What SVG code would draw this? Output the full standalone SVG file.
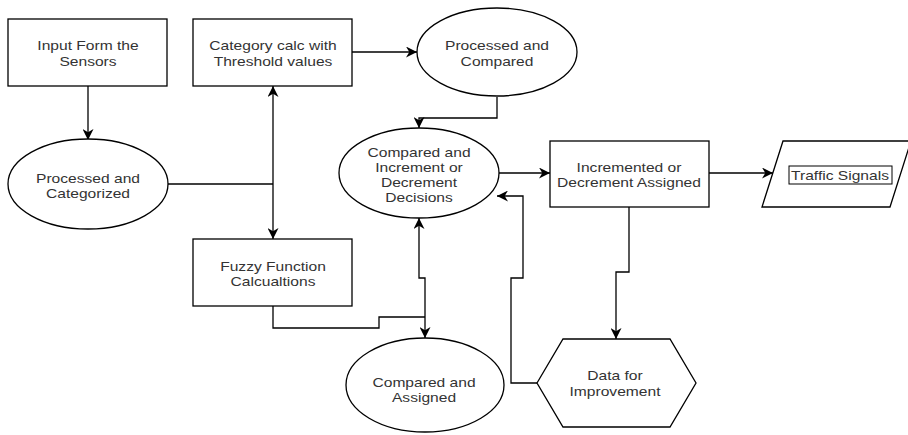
<svg xmlns="http://www.w3.org/2000/svg" width="908" height="435" viewBox="0 0 908 435">
<style>
.s{fill:#fff;stroke:#000;stroke-width:1.3}
.t{font-family:"Liberation Sans",Arial,sans-serif;font-size:13px;fill:#333;text-anchor:middle}
.c{fill:none;stroke:#000;stroke-width:1.3}
</style>
<defs>
<marker id="a" markerUnits="userSpaceOnUse" markerWidth="11" markerHeight="11" refX="10" refY="5" orient="auto-start-reverse" viewBox="0 0 10 10">
<path d="M0,0 L10,5 L0,10 L3,5 z" fill="#000"/>
</marker>
</defs>
<rect width="908" height="435" fill="#fff"/>
<g id="connectors">
<path class="c" d="M88,86 V140" marker-end="url(#a)"/>
<path class="c" d="M167,184 H273"/>
<path class="c" d="M273,184 V86" marker-end="url(#a)"/>
<path class="c" d="M273,184 V239" marker-end="url(#a)"/>
<path class="c" d="M352,52 H417" marker-end="url(#a)"/>
<path class="c" d="M497,97 V118 H419 V128" marker-end="url(#a)"/>
<path class="c" d="M499,173 H550" marker-end="url(#a)"/>
<path class="c" d="M709,173 H773" marker-end="url(#a)"/>
<path class="c" d="M629,207 V272 H616 V339" marker-end="url(#a)"/>
<path class="c" d="M537,383 H511 V278 H523 V196 H497" marker-end="url(#a)"/>
<path class="c" d="M419,218 V278 H425 V338" marker-start="url(#a)" marker-end="url(#a)"/>
<path class="c" d="M273,306 V328 H379 V317 H425"/>
</g>
<g id="input">
<rect class="s" x="8" y="19" width="159" height="67"/>
<text class="t" transform="translate(88,50) scale(1.2,1)">Input Form the</text>
<text class="t" transform="translate(88,66) scale(1.2,1)">Sensors</text>
</g>
<g id="category">
<rect class="s" x="193" y="19" width="159" height="67"/>
<text class="t" transform="translate(273,50) scale(1.2,1)">Category calc with</text>
<text class="t" transform="translate(273,66) scale(1.2,1)">Threshold values</text>
</g>
<g id="proc-compared">
<ellipse class="s" cx="497" cy="52" rx="80" ry="44"/>
<text class="t" transform="translate(497,50) scale(1.2,1)">Processed and</text>
<text class="t" transform="translate(497,66) scale(1.2,1)">Compared</text>
</g>
<g id="proc-categorized">
<ellipse class="s" cx="88" cy="184" rx="80" ry="45"/>
<text class="t" transform="translate(88,183) scale(1.2,1)">Processed and</text>
<text class="t" transform="translate(88,198) scale(1.2,1)">Categorized</text>
</g>
<g id="compared-increment">
<ellipse class="s" cx="419" cy="173" rx="80" ry="45"/>
<text class="t" transform="translate(419,157) scale(1.2,1)">Compared and</text>
<text class="t" transform="translate(419,172) scale(1.2,1)">Increment or</text>
<text class="t" transform="translate(419,187) scale(1.2,1)">Decrement</text>
<text class="t" transform="translate(419,202) scale(1.2,1)">Decisions</text>
</g>
<g id="incremented">
<rect class="s" x="550" y="141" width="159" height="66"/>
<text class="t" transform="translate(629,172) scale(1.2,1)">Incremented or</text>
<text class="t" transform="translate(629,187) scale(1.2,1)">Decrement Assigned</text>
</g>
<g id="traffic">
<polygon class="s" points="783,141 911,141 890,207 762,207"/>
<rect x="789" y="166" width="103" height="18" fill="none" stroke="#000" stroke-width="1"/>
<text class="t" transform="translate(840,180) scale(1.2,1)">Traffic Signals</text>
</g>
<g id="fuzzy">
<rect class="s" x="193" y="239" width="159" height="67"/>
<text class="t" transform="translate(273,271) scale(1.2,1)">Fuzzy Function</text>
<text class="t" transform="translate(273,286) scale(1.2,1)">Calcualtions</text>
</g>
<g id="compared-assigned">
<ellipse class="s" cx="425" cy="385" rx="79" ry="47"/>
<text class="t" transform="translate(424,387) scale(1.2,1)">Compared and</text>
<text class="t" transform="translate(424,402) scale(1.2,1)">Assigned</text>
</g>
<g id="data">
<polygon class="s" points="537,383 563,339 670,339 696,383 670,427 563,427"/>
<text class="t" transform="translate(615,380) scale(1.2,1)">Data for</text>
<text class="t" transform="translate(615,396) scale(1.2,1)">Improvement</text>
</g>
</svg>
